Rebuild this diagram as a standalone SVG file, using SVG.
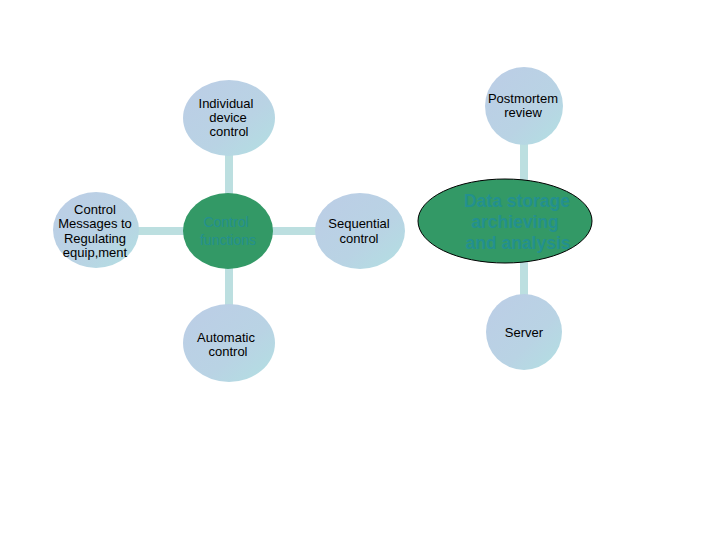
<svg xmlns="http://www.w3.org/2000/svg" width="720" height="540" viewBox="0 0 720 540">
<defs>
<linearGradient id="g" x1="0" y1="0" x2="1" y2="1">
<stop offset="0" stop-color="#bccde6"/>
<stop offset="0.6" stop-color="#b9d3e4"/>
<stop offset="1" stop-color="#b2e0e2"/>
</linearGradient>
<style>
.c{stroke:#bcdfe0;stroke-width:8;fill:none}
.n{fill:url(#g)}
.t{font-family:"Liberation Sans",Arial,sans-serif;font-size:13px;fill:#000;text-anchor:middle}
.gr{fill:#339966}
.gt{font-family:"Liberation Sans",Arial,sans-serif;fill:#23908f;text-anchor:middle}
</style>
</defs>
<rect width="720" height="540" fill="#fff"/>
<g id="connectors">
<line class="c" x1="96" y1="231" x2="360" y2="231"/>
<line class="c" x1="229" y1="118" x2="229" y2="343"/>
<line class="c" x1="524" y1="106" x2="524" y2="332"/>
</g>
<g id="control-messages">
<ellipse class="n" cx="96" cy="230" rx="43" ry="38"/>
<text class="t"><tspan x="95" y="214">Control</tspan><tspan x="95" y="228">Messages to</tspan><tspan x="95" y="243">Regulating</tspan><tspan x="95" y="257">equip,ment</tspan></text>
</g>
<g id="control-functions">
<ellipse class="gr" cx="228" cy="231" rx="45" ry="38"/>
<text class="gt" font-size="14"><tspan x="226" y="227">Control</tspan><tspan x="228" y="245">functions</tspan></text>
</g>
<g id="individual-device">
<ellipse class="n" cx="229" cy="118" rx="46" ry="38"/>
<text class="t"><tspan x="226" y="108">Individual</tspan><tspan x="228" y="122">device</tspan><tspan x="229" y="136">control</tspan></text>
</g>
<g id="automatic-control">
<ellipse class="n" cx="229" cy="343" rx="46" ry="39"/>
<text class="t"><tspan x="226" y="342">Automatic</tspan><tspan x="228" y="356">control</tspan></text>
</g>
<g id="sequential-control">
<ellipse class="n" cx="360" cy="231" rx="45" ry="38"/>
<text class="t"><tspan x="359" y="228">Sequential</tspan><tspan x="359" y="243">control</tspan></text>
</g>
<g id="postmortem">
<ellipse class="n" cx="524" cy="106" rx="39" ry="39"/>
<text class="t"><tspan x="523" y="103">Postmortem</tspan><tspan x="523" y="117">review</tspan></text>
</g>
<g id="data-storage">
<ellipse class="gr" cx="505" cy="221" rx="87" ry="42" stroke="#000" stroke-width="1"/>
<text class="gt" font-size="17.5" font-weight="bold"><tspan x="517" y="207">Data storage</tspan><tspan x="515" y="228">archieving</tspan><tspan x="518" y="249">and analysis</tspan></text>
</g>
<g id="server">
<ellipse class="n" cx="524" cy="332" rx="38" ry="38"/>
<text class="t"><tspan x="524" y="337">Server</tspan></text>
</g>
</svg>
